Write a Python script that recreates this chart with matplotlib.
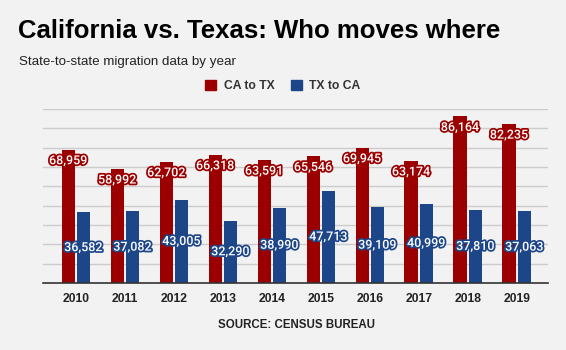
import numpy as np
import matplotlib.pyplot as plt
import matplotlib.patheffects as pe

years = ["2010", "2011", "2012", "2013", "2014", "2015", "2016", "2017", "2018", "2019"]
ca_to_tx = [68959, 58992, 62702, 66318, 63591, 65546, 69945, 63174, 86164, 82235]
tx_to_ca = [36582, 37082, 43005, 32290, 38990, 47713, 39109, 40999, 37810, 37063]
series_names = ["CA to TX", "TX to CA"]

RED = "#9b0000"
BLUE = "#1d4689"
BG = "#f2f2f2"

fig = plt.figure(figsize=(5.66, 3.5), dpi=100, facecolor=BG)
ax = fig.add_axes([43 / 566, 67 / 350, 505 / 566, 174 / 350], facecolor=BG)

x = np.arange(len(years))
w = 0.27
gap = 0.02
red_bars = ax.bar(x - w / 2 - gap, ca_to_tx, w, color=RED, zorder=3)
blue_bars = ax.bar(x + w / 2 + gap, tx_to_ca, w, color=BLUE, zorder=3)

ax.set_ylim(0, 90000)
ax.set_xlim(-0.67, len(years) - 0.36)
ax.set_yticks(np.arange(10000, 90001, 10000))
ax.yaxis.grid(True, color="#cccccc", linewidth=1, zorder=0)
ax.tick_params(axis="y", length=0, labelleft=False)
ax.tick_params(axis="x", length=0, pad=7)
ax.set_xticks(x)
ax.set_xticklabels(years, fontfamily="Liberation Sans", fontweight="bold",
                   fontsize=8.7, color="#222222")
for s in ["top", "right", "left"]:
    ax.spines[s].set_visible(False)
ax.spines["bottom"].set_color("#333333")
ax.spines["bottom"].set_linewidth(1.2)
ax.spines["bottom"].set_zorder(4)

# data labels: white text with an outline in the bar colour
for bar, v in zip(red_bars, ca_to_tx):
    ax.annotate(f"{v:,}", (bar.get_x() + bar.get_width() / 2, v),
                xytext=(0, -8), textcoords="offset points", ha="center", va="center",
                fontsize=9, fontfamily="Roboto", fontweight="medium", color="white",
                zorder=5, path_effects=[pe.withStroke(linewidth=2.5, foreground=RED)])
for bar, v in zip(blue_bars, tx_to_ca):
    ax.text(bar.get_x() + bar.get_width() / 2, v / 2, f"{v:,}",
            ha="center", va="center", fontsize=9, fontfamily="Roboto",
            fontweight="medium", color="white", zorder=5,
            path_effects=[pe.withStroke(linewidth=2.5, foreground=BLUE)])

fig.text(18 / 566, 1 - 31 / 350, "California vs. Texas: Who moves where",
         fontfamily="Liberation Sans", fontweight="bold", fontsize=18.5,
         color="black", va="center", ha="left")
fig.text(19 / 566, 1 - 62 / 350, "State-to-state migration data by year",
         fontfamily="Liberation Sans", fontsize=9.6, color="#222222",
         va="center", ha="left")

# legend
handles = [plt.Rectangle((0, 0), 1, 1, color=RED), plt.Rectangle((0, 0), 1, 1, color=BLUE)]
leg = fig.legend(handles, series_names, loc="center", bbox_to_anchor=(283 / 566, 1 - 86 / 350),
                 ncol=2, frameon=False, handlelength=0.9, handleheight=0.9,
                 handletextpad=0.6, columnspacing=1.4,
                 prop={"family": "Liberation Sans", "weight": "bold", "size": 8.7})
for t in leg.get_texts():
    t.set_color("#333333")

fig.text(296 / 566, 1 - 325 / 350, "SOURCE: CENSUS BUREAU", fontfamily="Liberation Sans",
         fontweight="bold", fontsize=8.3, color="#222222", ha="center", va="center")

fig.savefig("out.png", dpi=100, facecolor=BG)
